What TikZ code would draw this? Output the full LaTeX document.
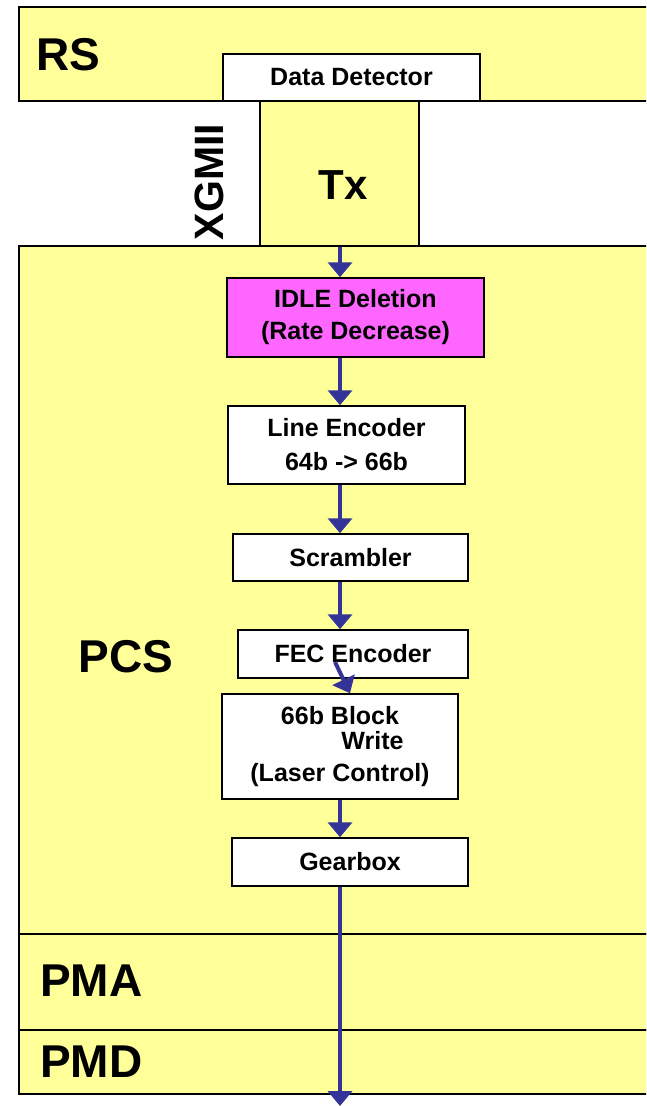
\documentclass[tikz,border=0pt]{standalone}
\usepackage{fontspec}
\setmainfont{Liberation Sans}
\usepackage{xcolor}
\definecolor{amarilloCapa}{HTML}{FFFF99}
\definecolor{magentaCapa}{HTML}{FF66FF}
\definecolor{azulFlecha}{HTML}{333399}
\usepackage{tikz}
\usetikzlibrary{arrows.meta,positioning,calc}

\begin{document}
\begin{tikzpicture}[x=1pt,y=-1pt,
    capa/.style={draw=black,line width=1.5pt,fill=amarilloCapa},
    bloque/.style={draw=black,line width=1.5pt,fill=white,inner sep=0pt,
      align=center,font=\fontsize{25}{28}\selectfont\bfseries},
    rotulo/.style={inner sep=0pt,font=\fontsize{46}{52}\selectfont\bfseries},
    flujo/.style={-{Triangle[width=24pt,length=15pt]},line width=4pt,azulFlecha}]
  \clip (0,0) rectangle (646,1106);
  % capas
  \draw[capa] (19,7) rectangle (670,101);
  \draw[capa] (19,246) rectangle (670,934);
  \draw[capa] (19,934) rectangle (670,1030);
  \draw[capa] (19,1030) rectangle (670,1094);
  \node[rotulo,anchor=west] (rs) at (36,55) {RS};
  \node[rotulo] (pcs) at (126,657) {PCS};
  \node[rotulo,anchor=west] (pma) at (40,981) {PMA};
  \node[rotulo,anchor=west] (pmd) at (40,1062) {PMD};
  % interfaz
  \node[capa,minimum width=159pt,minimum height=145pt,inner sep=0pt] (tx) at (339.5,173.5) {};
  \node[rotulo,font=\fontsize{42}{48}\selectfont\bfseries] (txrot) at (343,185) {Tx};
  \node[rotulo,rotate=90,font=\fontsize{41}{46}\selectfont\bfseries] (xgmii) at (209,182) {XGMII};
  \node[bloque,minimum width=257pt,minimum height=47pt] (dd) at (351.5,77.5) {Data Detector};
  % bloques del PCS
  \node[bloque,fill=magentaCapa,minimum width=257pt,minimum height=79pt] (idle) at (355.5,317.5)
    {IDLE Deletion\\[4pt](Rate Decrease)};
  \node[bloque,minimum width=237pt,minimum height=78pt] (lenc) at (346.5,445)
    {Line Encoder\\[6pt]64b -> 66b};
  \node[bloque,minimum width=235pt,minimum height=47pt] (scr) at (350.5,557.5) {Scrambler};
  \node[bloque,minimum width=230pt,minimum height=48pt] (fec) at (353,654) {FEC Encoder};
  \node[bloque,minimum width=236pt,minimum height=105pt] (blk) at (340,746.5)
    {66b Block\\[-3pt]\hspace*{2.6em}Write\\[4pt](Laser Control)};
  \node[bloque,minimum width=236pt,minimum height=48pt] (gear) at (350,862) {Gearbox};
  \coordinate (eje) at (340,0);
  \coordinate (fecsal) at (335,662);
  \coordinate (sal) at (340,1106);
  % flechas
  \draw[flujo] (tx.south -| eje) -- (idle.north -| eje);
  \draw[flujo] (idle.south -| eje) -- (lenc.north -| eje);
  \draw[flujo] (lenc.south -| eje) -- (scr.north -| eje);
  \draw[flujo] (scr.south -| eje) -- (fec.north -| eje);
  \draw[flujo] (fecsal) -- ($(blk.north)+(10,0)$);
  \draw[flujo] (blk.south -| eje) -- (gear.north -| eje);
  \draw[flujo] (gear.south -| eje) -- (sal);
\end{tikzpicture}
\end{document}
